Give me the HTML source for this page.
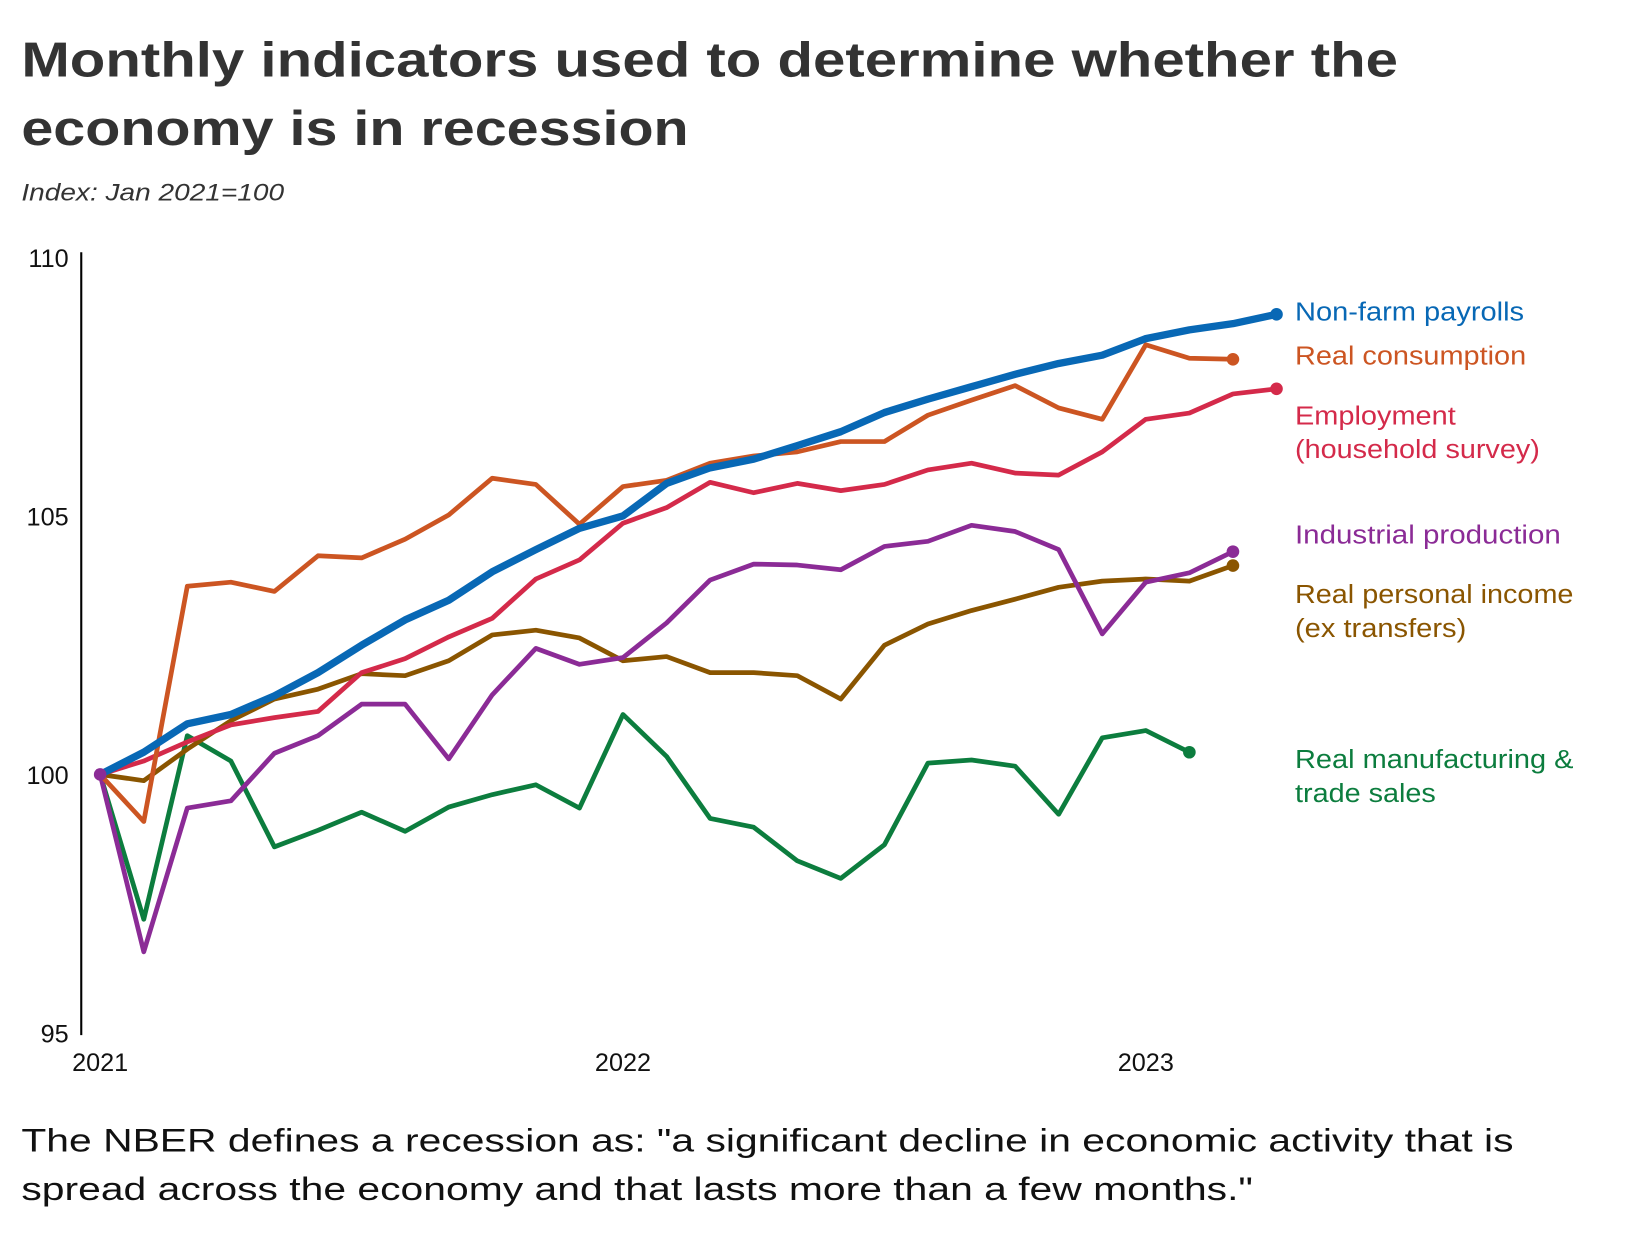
<!DOCTYPE html>
<html><head><meta charset="utf-8"><style>
html,body{margin:0;padding:0;background:#fff}
svg{display:block;font-family:"Liberation Sans",sans-serif}
</style></head><body>
<svg id="chart" width="1640" height="1240" viewBox="0 0 1560 1180" xmlns="http://www.w3.org/2000/svg">
<text x="20" y="73" font-size="47" font-weight="bold" fill="#333" textLength="1310" lengthAdjust="spacingAndGlyphs">Monthly indicators used to determine whether the</text>
<text x="20" y="138" font-size="47" font-weight="bold" fill="#333" textLength="635" lengthAdjust="spacingAndGlyphs">economy is in recession</text>
<text x="20" y="191" font-size="23" font-style="italic" fill="#333" textLength="250" lengthAdjust="spacingAndGlyphs">Index: Jan 2021=100</text>
<line x1="77" y1="240" x2="77" y2="985" stroke="#000" stroke-width="2"/>
<g id="yticks"></g>
<g id="xticks"></g>
<g id="series"></g>
<g id="labels"></g>
<text x="20" y="1096" font-size="31" fill="#111" textLength="1420" lengthAdjust="spacingAndGlyphs">The NBER defines a recession as: "a significant decline in economic activity that is</text>
<text x="20" y="1142" font-size="31" fill="#111" textLength="1172" lengthAdjust="spacingAndGlyphs">spread across the economy and that lasts more than a few months."</text>
</svg>
<script>
const yTicks=[95,100,105,110];
const xTickLabels=["2021","2022","2023"];
const xTickMonths=[0,12,24];
const payrolls=[100,100.43,100.98,101.16,101.52,101.97,102.5,102.99,103.37,103.92,104.35,104.76,105.0,105.63,105.93,106.1,106.36,106.63,107.0,107.26,107.5,107.74,107.95,108.11,108.43,108.6,108.72,108.9];
const consumption=[100,99.09,103.64,103.72,103.54,104.23,104.19,104.55,105.02,105.73,105.61,104.84,105.57,105.69,106.02,106.16,106.24,106.44,106.44,106.95,107.24,107.52,107.09,106.87,108.31,108.05,108.03];
const employment=[100,100.26,100.63,100.96,101.1,101.22,101.97,102.24,102.66,103.02,103.78,104.15,104.86,105.16,105.65,105.45,105.63,105.49,105.61,105.89,106.02,105.83,105.79,106.24,106.87,106.99,107.36,107.46];
const industrial=[100,96.57,99.35,99.49,100.41,100.75,101.36,101.36,100.3,101.54,102.44,102.13,102.26,102.93,103.76,104.07,104.05,103.96,104.41,104.51,104.82,104.7,104.35,102.72,103.72,103.9,104.31];
const income=[100,99.88,100.49,101.04,101.46,101.65,101.95,101.91,102.2,102.7,102.79,102.64,102.2,102.28,101.97,101.97,101.91,101.46,102.5,102.91,103.17,103.39,103.62,103.74,103.78,103.74,104.04];
const sales=[100,97.2,100.75,100.26,98.6,98.92,99.27,98.9,99.37,99.61,99.8,99.35,101.16,100.35,99.15,98.98,98.33,97.99,98.64,100.22,100.28,100.16,99.23,100.71,100.85,100.43];
const NS="http://www.w3.org/2000/svg";
function xs(m){return 95+m*41.46;}
function ys(v){return 737-(v-100)*49.2;}
function mk(tag,attrs,parent){const e=document.createElementNS(NS,tag);for(const k in attrs)e.setAttribute(k,attrs[k]);parent.appendChild(e);return e;}
const yg=document.getElementById('yticks');
yTicks.forEach(v=>{const t=mk('text',{x:65,y:ys(v)+9,'font-size':24,'text-anchor':'end',fill:'#111'},yg);t.textContent=v;

});
const xg=document.getElementById('xticks');
xTickLabels.forEach((l,i)=>{const t=mk('text',{x:xs(xTickMonths[i]),y:1019,'font-size':24,'text-anchor':'middle',fill:'#111'},xg);t.textContent=l;

});
const defs=[
 {d:sales,c:'#0c7d3e',w:4.5,n:'sales',lab:['Real manufacturing &','trade sales'],tl:[265,134],ly:731},
 {d:income,c:'#8a5500',w:4.5,n:'income',lab:['Real personal income','(ex transfers)'],tl:[265,163],ly:574},
 {d:industrial,c:'#8b2b96',w:4.5,n:'industrial',lab:['Industrial production'],tl:[253],ly:517},
 {d:employment,c:'#d42a4a',w:4.5,n:'employment',lab:['Employment','(household survey)'],tl:[153,233],ly:404},
 {d:consumption,c:'#cc5522',w:4.5,n:'consumption',lab:['Real consumption'],tl:[220],ly:347},
 {d:payrolls,c:'#0868b5',w:7,n:'payrolls',lab:['Non-farm payrolls'],tl:[218],ly:305}
];
const sg=document.getElementById('series'),lg=document.getElementById('labels');
defs.forEach(s=>{
 const pts=s.d.map((v,i)=>xs(i).toFixed(1)+','+ys(v).toFixed(1)).join(' ');
 const pl=mk('polyline',{points:pts,fill:'none',stroke:s.c,'stroke-width':s.w,'stroke-linejoin':'round','stroke-linecap':'round'},sg);
 
 
 const last=s.d.length-1;
 const dot=mk('circle',{cx:xs(last),cy:ys(s.d[last]),r:6,fill:s.c},sg);
 
 
 s.lab.forEach((t,j)=>{const tx=mk('text',{x:1232,y:s.ly+j*32,'font-size':25,fill:s.c,textLength:s.tl[j],lengthAdjust:'spacingAndGlyphs'},lg);tx.textContent=t;
 
 });
});
const sd=mk('circle',{cx:xs(0),cy:ys(100),r:6,fill:'#8b2b96'},sg);


</script>
</body></html>
